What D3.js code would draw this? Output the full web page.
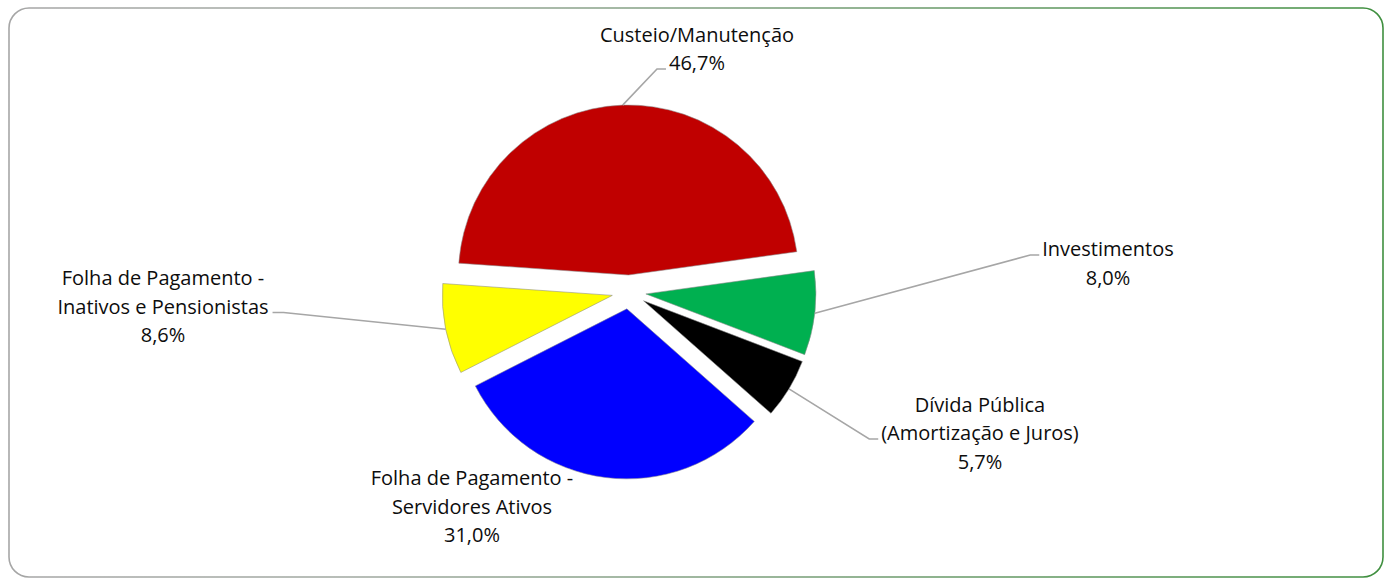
<!DOCTYPE html>
<html>
<head>
<meta charset="utf-8">
<script src="https://cdn.jsdelivr.net/npm/d3@7"></script>
<style>
  body { margin: 0; background: #fff; }
  svg { display: block; font-family: "Open Sans", "Noto Sans", sans-serif; }
  .label { font-size: 20px; fill: #0d0d0d; }
  .leader { fill: none; stroke: #a6a6a6; stroke-width: 1.6; }
</style>
</head>
<body>
<svg id="chart" width="1384" height="579"></svg>
<script>
// data, clockwise from the red slice
const categories = ['Custeio/Manutenção', 'Investimentos', 'Dívida Pública (Amortização e Juros)',
  'Folha de Pagamento - Servidores Ativos', 'Folha de Pagamento - Inativos e Pensionistas'];
const labelLines = [
  ['Custeio/Manutenção', '46,7%'],
  ['Investimentos', '8,0%'],
  ['Dívida Pública', '(Amortização e Juros)', '5,7%'],
  ['Folha de Pagamento -', 'Servidores Ativos', '31,0%'],
  ['Folha de Pagamento -', 'Inativos e Pensionistas', '8,6%'],
];
const values = [46.7, 8.0, 5.7, 31.0, 8.6];
const colors = ['#C00000', '#00B050', '#000000', '#0000FF', '#FFFF00'];

// layout of the labels (text centre, first baseline, where the leader attaches)
const labelLayout = [
  { x: 697, y: 41.5, line: 1, side: 'left' },
  { x: 1108, y: 256, line: 0, side: 'left' },
  { x: 980, y: 411.5, line: 1, side: 'left' },
  { x: 472, y: 485, line: null },
  { x: 163, y: 285, line: 1, side: 'right' },
];

const width = 1384, height = 579;
const cx = 629, cy = 292, radius = 170, explode = 17, lineH = 28.5;
const start = -86 * Math.PI / 180;

const svg = d3.select('#chart');

// frame
const grad = svg.append('defs').append('linearGradient')
  .attr('id', 'frame').attr('x1', '0%').attr('x2', '100%');
grad.append('stop').attr('offset', '0%').attr('stop-color', '#a6a6a6');
grad.append('stop').attr('offset', '25%').attr('stop-color', '#a0a8a0');
grad.append('stop').attr('offset', '100%').attr('stop-color', '#3f8f3f');
svg.append('rect')
  .attr('x', 9).attr('y', 8)
  .attr('width', width - 10).attr('height', height - 10)
  .attr('rx', 20)
  .attr('fill', '#fff')
  .attr('stroke', 'url(#frame)')
  .attr('stroke-width', 1.6);

const pie = d3.pie().sort(null).value(d => d).startAngle(start).endAngle(start + 2 * Math.PI);
const arc = d3.arc().innerRadius(0).outerRadius(radius);
const arcs = pie(values);

const mid = d => (d.startAngle + d.endAngle) / 2;
const offset = (d, r) => [Math.sin(mid(d)) * r, -Math.cos(mid(d)) * r];

const g = svg.append('g').attr('transform', `translate(${cx},${cy})`);

g.selectAll('path.slice')
  .data(arcs)
  .join('path')
  .attr('class', 'slice')
  .attr('transform', d => `translate(${offset(d, explode)})`)
  .attr('d', arc)
  .attr('fill', (d, i) => colors[i])
  .attr('stroke', '#8c8c8c')
  .attr('stroke-opacity', 0.7)
  .attr('stroke-width', 0.8);

// labels
const labels = svg.selectAll('text.label')
  .data(arcs)
  .join('text')
  .attr('class', 'label')
  .attr('text-anchor', 'middle');

labels.each(function (d, i) {
  const t = d3.select(this);
  const lay = labelLayout[i];
  labelLines[i].forEach((s, k) => {
    t.append('tspan')
      .attr('x', lay.x)
      .attr('y', lay.y + k * lineH)
      .text(s);
  });
});

// leader lines from the middle of the outer arc to the label
labels.each(function (d, i) {
  const lay = labelLayout[i];
  if (lay.line == null) return;
  const tspan = d3.select(this).selectAll('tspan').nodes()[lay.line];
  const w = tspan.getComputedTextLength();
  const by = lay.y + lay.line * lineH - 1;
  const [ox, oy] = offset(d, explode);
  const [ax, ay] = offset(d, radius);
  const p0 = [cx + ox + ax, cy + oy + ay];
  let end, elbow;
  if (lay.side === 'left') {
    end = [lay.x - w / 2 - 3, by];
    elbow = [end[0] - 9, by];
  } else {
    end = [lay.x + w / 2 + 4, by];
    elbow = [end[0] + 11, by];
  }
  svg.insert('path', 'text')
    .attr('class', 'leader')
    .attr('d', d3.line()([p0, elbow, end]));
});
</script>
</body>
</html>
